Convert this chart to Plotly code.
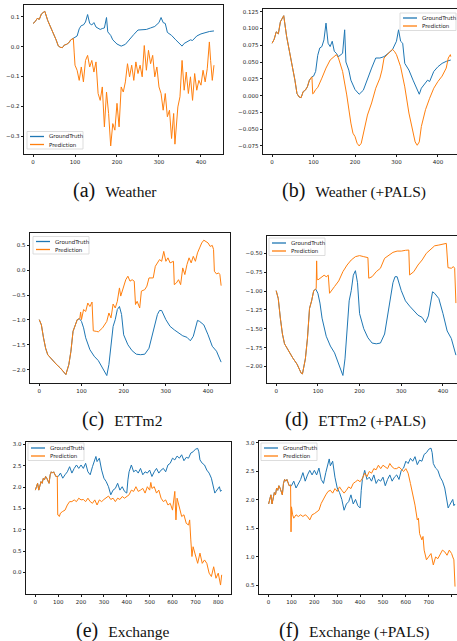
import plotly.graph_objects as go

# ---------------- data ----------------
# Weather: ground truth (input window 0-95 + horizon)
weather_gt_x = [0,5,10,15,20,25,28,35,40,45,50,55,60,65,70,75,80,85,90,96,100,105,110,115,120,125,130,135,140,145,150,155,160,165,170,175,178,185,190,200,210,220,230,240,250,260,270,280,290,300,305,310,315,320,330,340,350,355,360,370,375,380,390,400,410,420,431]
weather_gt_y = [0.078,0.084,0.095,0.092,0.110,0.117,0.119,0.088,0.073,0.056,0.043,0.023,0.003,-0.002,-0.003,0.006,0.008,0.013,0.023,0.028,0.029,0.036,0.060,0.071,0.073,0.083,0.108,0.078,0.073,0.081,0.066,0.063,0.058,0.061,0.063,0.098,0.050,0.038,0.023,0.009,0.002,0.008,0.026,0.041,0.056,0.056,0.058,0.063,0.068,0.081,0.098,0.081,0.078,0.048,0.038,0.023,0.008,0.002,0.011,0.018,0.023,0.021,0.036,0.043,0.048,0.051,0.053]
# Weather: baseline forecast
weather_pred_x = [96,98,100,105,110,115,120,125,130,135,140,145,150,155,160,165,170,175,180,185,190,195,200,205,210,215,220,225,230,235,240,245,250,255,260,265,270,275,280,285,290,295,300,305,310,315,320,325,330,335,338,345,350,355,360,365,370,375,380,385,390,395,400,405,410,415,420,423,427,431]
weather_pred_y = [0.028,-0.018,-0.062,-0.079,-0.113,-0.068,-0.118,-0.046,-0.029,-0.068,-0.046,-0.085,-0.051,-0.157,-0.18,-0.135,-0.269,-0.152,-0.224,-0.333,-0.258,-0.28,-0.19,-0.269,-0.135,-0.152,-0.118,-0.057,-0.101,-0.062,-0.113,-0.051,-0.09,-0.062,-0.101,0.004,-0.079,-0.012,-0.057,-0.029,-0.101,-0.068,-0.135,-0.157,-0.213,-0.157,-0.235,-0.213,-0.308,-0.224,-0.327,-0.202,-0.168,-0.046,-0.146,-0.085,-0.157,-0.101,-0.18,-0.09,-0.146,-0.113,-0.129,-0.079,-0.118,-0.074,0.016,-0.046,-0.113,-0.062]
# Weather: +PALS forecast
weather_pals_x = [96,98,100,105,110,120,130,140,150,155,160,170,180,185,190,195,200,205,210,215,220,230,240,250,260,265,270,280,290,295,300,310,320,330,340,345,350,355,360,370,380,390,400,410,420,425,430,431]
weather_pals_y = [0.028,0.0025,0.0035,0.009,0.012,0.026,0.041,0.053,0.059,0.061,0.056,0.036,0.001,-0.021,-0.041,-0.056,-0.061,-0.071,-0.075,-0.071,-0.056,-0.029,-0.011,0.011,0.026,0.038,0.056,0.063,0.069,0.066,0.061,0.043,0.013,-0.026,-0.056,-0.069,-0.074,-0.069,-0.046,-0.021,-0.004,0.011,0.021,0.029,0.041,0.056,0.061,0.058]

# ETTm2
ettm2_gt_x = [0,5,10,15,20,30,40,50,60,63,70,75,80,85,90,95,100,105,110,120,130,140,150,160,165,170,175,180,185,190,195,200,210,220,230,240,250,260,270,280,285,290,300,310,320,330,340,350,358,365,370,375,380,390,400,410,420,431]
ettm2_gt_y = [-0.995,-1.10,-1.36,-1.57,-1.70,-1.80,-1.89,-1.97,-2.09,-2.10,-1.90,-1.63,-1.23,-1.13,-0.995,-0.975,-1.03,-1.16,-1.36,-1.60,-1.73,-1.82,-1.96,-2.12,-1.90,-1.50,-1.13,-0.995,-0.79,-0.73,-0.89,-1.30,-1.50,-1.62,-1.69,-1.70,-1.69,-1.57,-1.23,-0.89,-0.81,-0.81,-0.995,-1.13,-1.20,-1.26,-1.32,-1.35,-1.42,-1.33,-1.16,-1.01,-1.03,-1.10,-1.30,-1.53,-1.63,-1.85]
ettm2_pred_x = [96,98,100,105,110,115,120,125,128,135,140,150,160,165,170,175,180,185,190,193,200,205,210,215,220,225,228,232,238,242,250,255,260,270,275,280,285,290,295,300,305,310,315,318,320,325,330,335,340,345,350,355,360,365,370,375,380,385,390,395,400,405,410,413,415,420,425,428,431]
ettm2_pred_y = [-0.975,-0.84,-0.995,-0.79,-0.83,-0.66,-0.73,-0.64,-1.22,-1.23,-1.24,-1.16,-1.03,-0.86,-0.96,-0.68,-0.76,-0.625,-0.356,-0.52,-0.32,-0.19,-0.12,-0.22,-0.19,-0.22,-0.69,-0.625,-0.76,-0.42,-0.39,-0.32,-0.155,-0.155,0.08,0.148,0.215,0.18,0.38,0.18,0.25,0.148,0.168,0.18,-0.29,-0.255,-0.19,-0.29,0.047,-0.087,0.114,0.25,0.148,0.28,0.18,0.35,0.45,0.55,0.605,0.585,0.55,0.48,0.50,0.42,-0.02,-0.074,-0.054,-0.087,-0.31]
ettm2_pals_x = [96,97,98,100,110,115,120,125,128,135,140,150,160,170,180,190,200,210,220,222,230,240,250,260,270,280,290,300,310,318,320,330,340,350,360,370,380,390,400,408,412,420,425,428,431]
ettm2_pals_y = [-0.963,-0.60,-0.83,-0.853,-0.81,-0.79,-0.81,-0.79,-1.03,-0.985,-0.94,-0.866,-0.743,-0.655,-0.588,-0.544,-0.53,-0.544,-0.557,-0.83,-0.81,-0.743,-0.698,-0.566,-0.522,-0.487,-0.47,-0.47,-0.46,-0.456,-0.787,-0.743,-0.655,-0.588,-0.50,-0.443,-0.40,-0.39,-0.38,-0.368,-0.69,-0.698,-0.676,-0.698,-1.16]

# Exchange
exchange_gt_x = [0,5,10,15,20,25,30,35,40,45,50,55,60,65,70,75,80,90,96,100,110,120,130,140,150,160,170,180,190,200,210,220,230,240,250,260,265,270,280,290,300,310,320,330,340,350,360,370,380,390,400,405,410,420,430,440,450,460,470,480,490,500,510,520,530,540,550,560,570,580,590,600,610,620,630,640,650,660,670,680,690,700,710,715,720,730,740,750,760,770,780,785,790,800,805,810,815]
exchange_gt_y = [1.93,2.05,2.09,1.93,2.01,2.13,2.09,2.21,2.17,2.25,2.21,2.13,2.09,2.29,2.36,2.33,2.36,2.25,2.26,2.25,2.33,2.21,2.29,2.36,2.48,2.33,2.44,2.52,2.44,2.52,2.44,2.56,2.36,2.29,2.48,2.64,2.72,2.60,2.68,2.40,2.21,2.13,2.01,1.82,1.93,1.97,2.09,1.93,2.01,1.90,1.86,2.17,2.36,2.52,2.36,2.40,2.33,2.44,2.29,2.36,2.33,2.40,2.25,2.36,2.44,2.33,2.40,2.44,2.36,2.52,2.56,2.68,2.64,2.73,2.68,2.76,2.62,2.70,2.68,2.80,2.83,2.89,2.91,2.83,2.64,2.56,2.52,2.40,2.33,2.21,1.93,1.86,1.90,1.97,2.01,1.90,1.93]
exchange_pred_x = [96,98,100,105,110,120,130,140,150,160,170,180,190,200,210,220,230,240,250,260,270,280,290,300,310,320,330,340,350,360,370,380,390,400,410,420,430,440,450,460,470,480,490,500,505,510,520,530,540,550,560,570,580,590,600,610,615,620,630,640,650,660,670,675,680,685,690,700,710,720,730,740,750,760,770,780,790,800,805,810,815]
exchange_pred_y = [2.26,1.35,1.35,1.31,1.39,1.43,1.46,1.58,1.66,1.66,1.70,1.66,1.74,1.70,1.71,1.66,1.74,1.66,1.62,1.70,1.58,1.70,1.66,1.71,1.74,1.79,1.71,1.74,1.66,1.74,1.71,1.78,1.74,1.78,1.82,1.93,1.90,2.01,1.90,1.93,1.97,1.86,2.01,1.93,2.11,1.97,2.01,1.86,1.93,1.74,1.66,1.70,1.58,1.62,1.46,1.90,1.23,1.74,1.54,1.31,1.35,1.15,1.11,1.23,0.76,0.37,0.60,0.37,0.21,0.45,0.21,0.29,0.21,-0.02,-0.10,0.13,-0.14,-0.02,-0.22,-0.30,-0.06]
exchange_pals_x = [96,98,100,105,110,120,130,140,150,160,170,180,190,200,210,220,230,240,250,260,270,280,290,300,310,320,330,340,350,360,370,380,390,400,410,420,430,440,450,460,470,480,490,500,510,520,530,540,550,560,570,580,590,600,610,620,630,640,650,655,660,670,675,680,690,700,710,720,730,740,750,760,770,780,790,800,805,810,815]
exchange_pals_y = [2.26,1.44,1.88,1.74,1.68,1.74,1.71,1.74,1.71,1.74,1.71,1.65,1.74,1.76,1.79,1.82,1.94,2.03,2.09,2.15,2.17,2.12,2.20,2.15,2.23,2.17,2.12,2.17,2.23,2.20,2.29,2.32,2.35,2.32,2.38,2.47,2.41,2.50,2.47,2.55,2.53,2.61,2.55,2.61,2.58,2.55,2.64,2.58,2.55,2.55,2.58,2.53,2.50,2.55,2.47,2.29,2.12,1.91,1.65,1.68,1.41,1.30,1.36,1.12,0.95,1.00,1.06,0.86,1.00,0.97,1.06,1.12,1.09,1.03,1.12,1.06,1.00,0.95,0.48]

# tick labels
ticks_short = [0, 100, 200, 300, 400]
ticks_long = [0, 100, 200, 300, 400, 500, 600, 700, 800]
series_names = ["GroundTruth", "Prediction"]
captions = [("(a)", "Weather"), ("(b)", "Weather (+PALS)"), ("(c)", "ETTm2"),
            ("(d)", "ETTm2 (+PALS)"), ("(e)", "Exchange"), ("(f)", "Exchange (+PALS)")]

# ---------------- layout helpers ----------------
W, H = 457, 641
BLUE, ORANGE = "#1f77b4", "#ff7f0e"


def fx(p):
    return p / W


def fy(p):
    return 1 - p / H


def with_history(gx, gy, px_, py_):
    start = px_[0]
    hx = [x for x in gx if x < start]
    hy = [y for x, y in zip(gx, gy) if x < start]
    return hx + list(px_), hy + list(py_)


panels = [
    dict(gt=(weather_gt_x, weather_gt_y), fc=(weather_pred_x, weather_pred_y),
         box=(24, 223, 5, 154), xr=[-21.5, 452.5], yr=[-0.36, 0.14],
         xt=ticks_short, yt=[-0.3, -0.2, -0.1, 0.0, 0.1], yf="{:.1f}",
         leg=(27, 131.5), cap=(115, 190)),
    dict(gt=(weather_gt_x, weather_gt_y), fc=(weather_pals_x, weather_pals_y),
         box=(263, 457, 9, 154), xr=[-22, 446], yr=[-0.087, 0.129],
         xt=ticks_short, yt=[-0.075, -0.05, -0.025, 0.0, 0.025, 0.05, 0.075, 0.1, 0.125], yf="{:.3f}",
         leg=(400, 13), cap=(354, 190)),
    dict(gt=(ettm2_gt_x, ettm2_gt_y), fc=(ettm2_pred_x, ettm2_pred_y),
         box=(30, 230, 233, 383), xr=[-22, 452], yr=[-2.27, 0.75],
         xt=ticks_short, yt=[-2.0, -1.5, -1.0, -0.5, 0.0, 0.5], yf="{:.1f}",
         leg=(33, 236.5), cap=(122, 419)),
    dict(gt=(ettm2_gt_x, ettm2_gt_y), fc=(ettm2_pals_x, ettm2_pals_y),
         box=(267, 457, 236, 383), xr=[-22, 433.6], yr=[-2.22, -0.27],
         xt=ticks_short, yt=[-2.0, -1.75, -1.5, -1.25, -1.0, -0.75, -0.5], yf="{:.2f}",
         leg=(269, 238), cap=(355, 419)),
    dict(gt=(exchange_gt_x, exchange_gt_y), fc=(exchange_pred_x, exchange_pred_y),
         box=(26, 231, 442, 594), xr=[-40.75, 855.75], yr=[-0.51, 3.06],
         xt=ticks_long, yt=[0.0, 0.5, 1.0, 1.5, 2.0, 2.5, 3.0], yf="{:.1f}",
         leg=(28, 443), cap=(122, 630)),
    dict(gt=(exchange_gt_x, exchange_gt_y), fc=(exchange_pals_x, exchange_pals_y),
         box=(259, 457, 441, 594), xr=[-42, 823.6], yr=[0.35, 3.035],
         xt=ticks_long, yt=[0.5, 1.0, 1.5, 2.0, 2.5, 3.0], yf="{:.1f}",
         leg=(261, 443), cap=(354, 630)),
]

fig = go.Figure()
shapes, annotations = [], []
tick_font = dict(family="DejaVu Sans", size=5.5, color="#222222")

for i, p in enumerate(panels, start=1):
    sx = "" if i == 1 else str(i)
    gx, gy = p["gt"]
    px_, py_ = with_history(gx, gy, *p["fc"])
    fig.add_trace(go.Scatter(x=gx, y=gy, mode="lines", name=series_names[0],
                             line=dict(color=BLUE, width=1), showlegend=False,
                             xaxis="x" + sx, yaxis="y" + sx))
    fig.add_trace(go.Scatter(x=px_, y=py_, mode="lines", name=series_names[1],
                             line=dict(color=ORANGE, width=1), showlegend=False,
                             xaxis="x" + sx, yaxis="y" + sx))
    x0, x1, y0, y1 = p["box"]
    common = dict(showline=True, mirror=True, linecolor="#1a1a1a", linewidth=0.9,
                  ticks="outside", ticklen=2.5, tickwidth=0.8, tickcolor="#1a1a1a",
                  showgrid=False, zeroline=False, tickfont=tick_font, automargin=False)
    fig.update_layout(**{
        "xaxis" + sx: dict(domain=[fx(x0), fx(x1)], range=p["xr"], anchor="y" + sx,
                           tickvals=p["xt"], ticktext=[str(t) for t in p["xt"]], **common),
        "yaxis" + sx: dict(domain=[fy(y1), fy(y0)], range=p["yr"], anchor="x" + sx,
                           tickvals=p["yt"],
                           ticktext=[p["yf"].format(t).replace("-", "\u2212") for t in p["yt"]],
                           **common),
    })
    # legend (matplotlib style box)
    lx, ly = p["leg"]
    lw, lh = 56, 17.5
    shapes.append(dict(type="rect", xref="paper", yref="paper",
                       x0=fx(lx), x1=fx(lx + lw), y0=fy(ly + lh), y1=fy(ly),
                       line=dict(color="#d4d4d4", width=0.8),
                       fillcolor="rgba(255,255,255,0.85)"))
    for k, (nm, col) in enumerate(zip(series_names, [BLUE, ORANGE])):
        yy = ly + 5 + k * 8
        shapes.append(dict(type="line", xref="paper", yref="paper",
                           x0=fx(lx + 3), x1=fx(lx + 17), y0=fy(yy), y1=fy(yy),
                           line=dict(color=col, width=1.3)))
        annotations.append(dict(text=nm, xref="paper", yref="paper", x=fx(lx + 20), y=fy(yy),
                                xanchor="left", yanchor="middle", showarrow=False,
                                font=dict(family="DejaVu Sans", size=5.5, color="#222222")))
    # caption
    tag, label = captions[i - 1]
    cx, cy = p["cap"]
    annotations.append(dict(
        text=tag + "&nbsp;&nbsp;<span style='font-size:15.5px'>" + label + "</span>",
        xref="paper", yref="paper", x=fx(cx), y=fy(cy), xanchor="center", yanchor="middle",
        showarrow=False, font=dict(family="Liberation Serif", size=20, color="#111111")))

fig.update_layout(width=W, height=H, margin=dict(l=0, r=0, t=0, b=0),
                  paper_bgcolor="white", plot_bgcolor="white", showlegend=False,
                  shapes=shapes, annotations=annotations, template="none")

fig.write_html("out.html")
